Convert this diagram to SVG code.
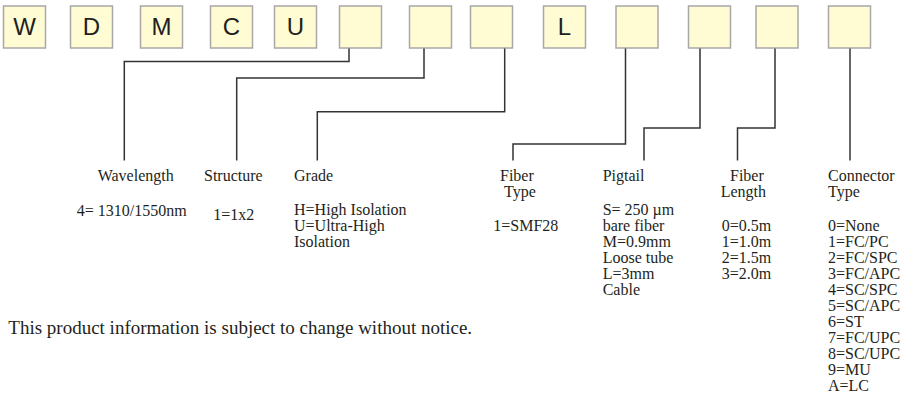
<svg xmlns="http://www.w3.org/2000/svg" width="901" height="402" viewBox="0 0 901 402">
<style>
.box{fill:#fffbd3;stroke:#a8a8a8;stroke-width:1.5}
.lt{font-family:"Liberation Sans",Arial,sans-serif;font-size:24px;fill:#231f20;text-anchor:middle}
.t{font-family:"Liberation Serif","Times New Roman",serif;font-size:16px;fill:#231f20}
.fn{font-family:"Liberation Serif","Times New Roman",serif;font-size:19px;fill:#231f20}
.c{fill:none;stroke:#333;stroke-width:1.5}
</style>
<rect width="901" height="402" fill="#fff"/>
<g id="box1"><rect class="box" x="3.5" y="6" width="42" height="42"/><text class="lt" x="24.5" y="34.5">W</text></g>
<g id="box2"><rect class="box" x="70.5" y="6" width="42" height="42"/><text class="lt" x="91.5" y="34.5">D</text></g>
<g id="box3"><rect class="box" x="140.5" y="6" width="42" height="42"/><text class="lt" x="161.5" y="34.5">M</text></g>
<g id="box4"><rect class="box" x="210.5" y="6" width="42" height="42"/><text class="lt" x="231.5" y="34.5">C</text></g>
<g id="box5"><rect class="box" x="274.5" y="6" width="42" height="42"/><text class="lt" x="295.5" y="34.5">U</text></g>
<g id="box6"><rect class="box" x="339.5" y="6" width="42" height="42"/></g>
<g id="box7"><rect class="box" x="409.5" y="6" width="42" height="42"/></g>
<g id="box8"><rect class="box" x="470.5" y="6" width="42" height="42"/></g>
<g id="box9"><rect class="box" x="543.5" y="6" width="42" height="42"/><text class="lt" x="564.5" y="34.5">L</text></g>
<g id="box10"><rect class="box" x="616" y="6" width="42" height="42"/></g>
<g id="box11"><rect class="box" x="688.5" y="6" width="42" height="42"/></g>
<g id="box12"><rect class="box" x="756" y="6" width="42" height="42"/></g>
<g id="box13"><rect class="box" x="828.5" y="6" width="42" height="42"/></g>
<g id="connectors">
<path class="c" d="M349,48.5 V61.5 H124.3 V160.5"/>
<path class="c" d="M424,48.5 V78 H236.7 V160.5"/>
<path class="c" d="M504.7,48.5 V111.7 H317.3 V160.5"/>
<path class="c" d="M625.5,48.5 V144 H513 V160.5"/>
<path class="c" d="M700,48.5 V128 H644 V160.5"/>
<path class="c" d="M775,48.5 V128 H737.5 V160.5"/>
<path class="c" d="M850,48.5 V160.5"/>
</g>
<g id="wavelength"><text class="t" x="97.7" y="180.5">Wavelength</text><text class="t" x="76.7" y="216">4= 1310/1550nm</text></g>
<g id="structure"><text class="t" x="204" y="180.5">Structure</text><text class="t" x="213.3" y="220">1=1x2</text></g>
<g id="grade"><text class="t" x="294" y="180.5">Grade</text><text class="t" x="294" y="215">H=High Isolation</text><text class="t" x="294" y="231">U=Ultra-High</text><text class="t" x="294" y="247">Isolation</text></g>
<g id="fibertype"><text class="t" x="500" y="181">Fiber</text><text class="t" x="504" y="197">Type</text><text class="t" x="493.3" y="231">1=SMF28</text></g>
<g id="pigtail"><text class="t" x="602.7" y="181">Pigtail</text><text class="t" x="602.7" y="215">S= 250 µm</text><text class="t" x="602.7" y="231">bare fiber</text><text class="t" x="602.7" y="247">M=0.9mm</text><text class="t" x="602.7" y="263">Loose tube</text><text class="t" x="602.7" y="279">L=3mm</text><text class="t" x="602.7" y="295">Cable</text></g>
<g id="fiberlength"><text class="t" x="730" y="181">Fiber</text><text class="t" x="720.7" y="197">Length</text><text class="t" x="721.7" y="231">0=0.5m</text><text class="t" x="721.7" y="247">1=1.0m</text><text class="t" x="721.7" y="263">2=1.5m</text><text class="t" x="721.7" y="279">3=2.0m</text></g>
<g id="connectortype"><text class="t" x="828" y="181">Connector</text><text class="t" x="828" y="197">Type</text><text class="t" x="828" y="231">0=None</text><text class="t" x="828" y="247">1=FC/PC</text><text class="t" x="828" y="263">2=FC/SPC</text><text class="t" x="828" y="279">3=FC/APC</text><text class="t" x="828" y="295">4=SC/SPC</text><text class="t" x="828" y="311">5=SC/APC</text><text class="t" x="828" y="327">6=ST</text><text class="t" x="828" y="343">7=FC/UPC</text><text class="t" x="828" y="359">8=SC/UPC</text><text class="t" x="828" y="375">9=MU</text><text class="t" x="828" y="391">A=LC</text></g>
<text class="fn" x="8.3" y="333.5">This product information is subject to change without notice.</text>
</svg>
